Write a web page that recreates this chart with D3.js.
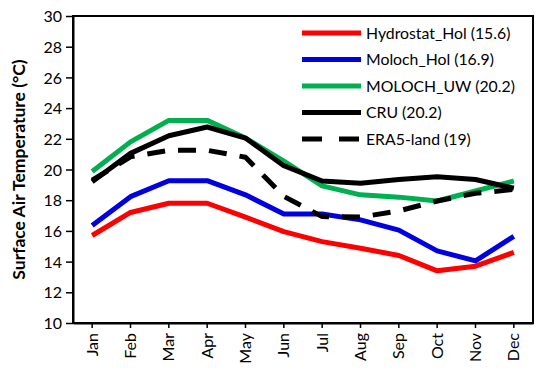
<!DOCTYPE html>
<html>
<head>
<meta charset="utf-8">
<script src="https://cdn.jsdelivr.net/npm/d3@7"></script>
<style>
  body { margin: 0; background: #fff; }
  text { font-family: Lato, "Open Sans", sans-serif; fill: #000; }
</style>
</head>
<body>
<svg width="550" height="374"></svg>
<script>
const months = ["Jan", "Feb", "Mar", "Apr", "May", "Jun", "Jul", "Aug", "Sep", "Oct", "Nov", "Dec"];
const yTicks = [10, 12, 14, 16, 18, 20, 22, 24, 26, 28, 30];

const hydrostatHol = [15.7, 17.2, 17.8, 17.8, 16.9, 15.95, 15.3, 14.87, 14.4, 13.4, 13.7, 14.6];
const molochHol = [16.35, 18.23, 19.27, 19.27, 18.35, 17.1, 17.1, 16.72, 16.05, 14.7, 14.05, 15.65];
const molochUW = [19.87, 21.8, 23.2, 23.2, 22.05, 20.55, 18.93, 18.35, 18.2, 17.95, 18.6, 19.25];
const cru = [19.2, 21.05, 22.2, 22.77, 22.05, 20.25, 19.25, 19.1, 19.35, 19.53, 19.35, 18.78];
const era5 = [19.3, 20.83, 21.25, 21.25, 20.8, 18.25, 16.93, 16.9, 17.3, 17.95, 18.45, 18.7];

const series = [
  { name: "Hydrostat_Hol (15.6)", values: hydrostatHol, color: "#ff0000", dash: null },
  { name: "Moloch_Hol (16.9)", values: molochHol, color: "#0000e0", dash: null },
  { name: "MOLOCH_UW (20.2)", values: molochUW, color: "#00b050", dash: null },
  { name: "CRU (20.2)", values: cru, color: "#000000", dash: null },
  { name: "ERA5-land (19)", values: era5, color: "#000000", dash: "18,13" }
];

const margin = { top: 16, right: 17, bottom: 51, left: 73 };
const width = 550 - margin.left - margin.right;
const height = 374 - margin.top - margin.bottom;

const svg = d3.select("svg");
const g = svg.append("g").attr("transform", `translate(${margin.left},${margin.top})`);

const x = d3.scaleBand().domain(months).range([0, width]);
const y = d3.scaleLinear().domain([10, 30]).range([height, 0]);

// frame
g.append("rect")
  .attr("width", width).attr("height", height)
  .attr("fill", "none").attr("stroke", "#000").attr("stroke-width", 2);

// y axis
const yAxis = g.append("g")
  .call(d3.axisLeft(y).tickValues(yTicks).tickSize(7).tickSizeOuter(0));
yAxis.select(".domain").attr("stroke-width", 2);
yAxis.selectAll(".tick line").attr("stroke-width", 1.5);
yAxis.selectAll(".tick text")
  .attr("x", -11).attr("dy", "0.35em")
  .style("font-size", "16px").style("font-family", "Lato, sans-serif");

// x axis
const xAxis = g.append("g")
  .attr("transform", `translate(0,${height})`)
  .call(d3.axisBottom(x).tickSize(5).tickSizeOuter(0));
xAxis.select(".domain").attr("stroke-width", 2);
xAxis.selectAll(".tick line").attr("stroke-width", 1.5);
xAxis.selectAll(".tick text")
  .attr("transform", "rotate(-90)")
  .attr("x", -10).attr("y", 0).attr("dy", "0.35em")
  .attr("text-anchor", "end")
  .style("font-size", "16px").style("font-family", "Lato, sans-serif");

// y label
svg.append("text")
  .attr("transform", `translate(19,${margin.top + height / 2}) rotate(-90)`)
  .attr("text-anchor", "middle")
  .attr("dy", "0.35em")
  .style("font-size", "17.5px")
  .style("font-weight", "bold")
  .text("Surface Air Temperature (°C)");

// lines
const line = d3.line()
  .x((d, i) => x(months[i]) + x.bandwidth() / 2)
  .y(d => y(d));

series.forEach(s => {
  g.append("path")
    .datum(s.values)
    .attr("d", line)
    .attr("fill", "none")
    .attr("stroke", s.color)
    .attr("stroke-width", 5)
    .attr("stroke-dasharray", s.dash)
    .attr("stroke-linejoin", "round");
});

// legend
const legend = g.append("g").attr("transform", "translate(229,17)");
series.forEach((s, i) => {
  const row = legend.append("g").attr("transform", `translate(0,${i * 26.5})`);
  row.append("line")
    .attr("x1", 0).attr("x2", 59)
    .attr("stroke", s.color).attr("stroke-width", 5)
    .attr("stroke-dasharray", s.dash ? "20,17" : null);
  row.append("text")
    .attr("x", 64).attr("dy", "0.35em")
    .style("font-size", "15.8px")
    .text(s.name);
});
</script>
</body>
</html>
